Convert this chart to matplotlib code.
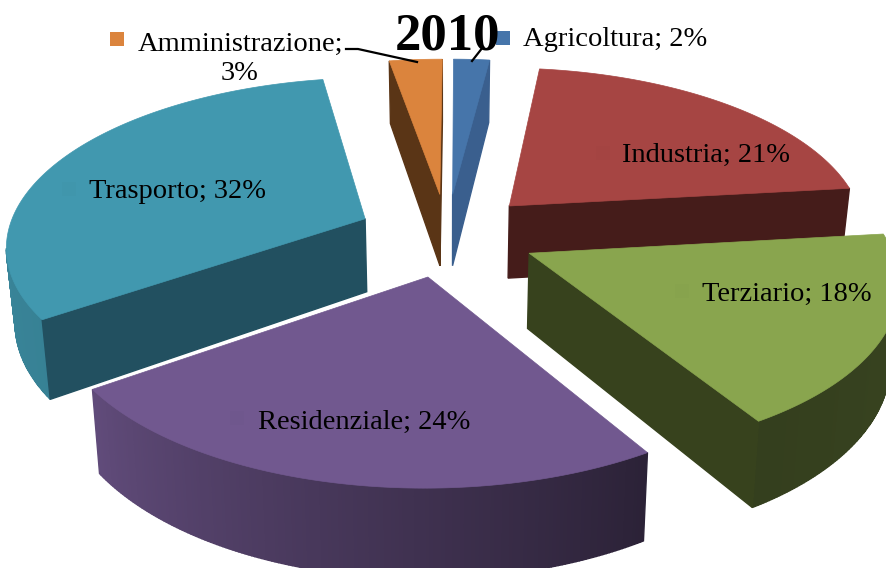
"""Exploded 3D pie of the 2010 shares, drawn with a hand-made perspective projection."""

import matplotlib

matplotlib.use("Agg")
import matplotlib.pyplot as plt
import numpy as np

CATEGORIES = ["Agricoltura", "Industria", "Terziario", "Residenziale", "Trasporto", "Amministrazione"]
# The labels show them rounded.
SHARES = [1.9, 21.2, 18.1, 24.0, 32.0, 2.8]
TITLE = "2010"

TOP_COLORS = ["#4675aa", "#a64543", "#89a54e", "#71588f", "#4198af", "#db843d"]
RADIAL_COLORS = ["#3a5f8e", "#451c1a", "#37421d", "#2c233c", "#225060", "#5a3516"]

# Projection, in reference pixels.
CX, CY = 447.0, 234.6
RADIUS = 358.0
EXPLODE = 90.0
DEPTH = 74.0
SQUASH = 0.464
PERSPECTIVE = 2430.0
START_ANGLE = 0.3
# The lower rim sits a little closer to the centre, the camera looks down on the pie.
BOTTOM_SCALE = 0.98


def project(x, y, z=0.0):
    w = 1 + np.asarray(y) / PERSPECTIVE
    return CX + np.asarray(x) / w, CY - np.asarray(y) * SQUASH / w + z / w


def wall_shade(angle):
    # Curved outer wall gets lighter towards the left side.
    return np.interp(angle, [90, 148, 234, 300], [0.42, 0.38, 0.85, 0.9])


def shade(color, factor):
    return tuple(np.array(matplotlib.colors.to_rgb(color)) * factor)


def wall(ax, p, q, color, zorder):
    xs = [p[0], q[0], CX + (q[0] - CX) * BOTTOM_SCALE, CX + (p[0] - CX) * BOTTOM_SCALE]
    ys = [p[1], q[1], q[1] + DEPTH / q[2], p[1] + DEPTH / p[2]]
    ax.fill(xs, ys, color=color, lw=1.0, zorder=zorder)


def draw_slice(ax, start, end, top_color, radial_color, zorder):
    mid = np.radians((start + end) / 2)
    tx, ty = EXPLODE * np.sin(mid), EXPLODE * np.cos(mid)
    angles = np.linspace(start, end, max(int(end - start) * 2, 8))
    rad = np.radians(angles)
    wx = np.concatenate([[tx], tx + RADIUS * np.sin(rad)])
    wy = np.concatenate([[ty], ty + RADIUS * np.cos(rad)])
    sx, sy = project(wx, wy)
    w = 1 + wy / PERSPECTIVE
    pts = list(zip(sx, sy, w))

    # A wall shows when the clockwise outline runs leftwards on screen.
    for i in range(1, len(pts) - 1):
        if pts[i + 1][0] < pts[i][0]:
            color = shade(top_color, wall_shade((angles[i - 1] + angles[i]) / 2))
            wall(ax, pts[i], pts[i + 1], color, zorder)
    if pts[1][0] < pts[0][0]:
        wall(ax, pts[0], pts[1], radial_color, zorder + 0.1)
    if pts[0][0] < pts[-1][0]:
        wall(ax, pts[-1], pts[0], radial_color, zorder + 0.1)
    ax.fill(sx, sy, color=top_color, lw=0.5, zorder=zorder + 0.2)


fig = plt.figure(figsize=(8.87, 5.68), dpi=100)
ax = fig.add_axes([0, 0, 1, 1])
ax.set_xlim(0, 887)
ax.set_ylim(568, 0)
ax.axis("off")

edges = np.concatenate([[0], np.cumsum(SHARES)]) * 360.0 / sum(SHARES) + START_ANGLE
mids = (edges[:-1] + edges[1:]) / 2
# Back slices first, so nearer ones paint over them.
order = np.argsort(-np.cos(np.radians(mids)))
for rank, i in enumerate(order):
    draw_slice(ax, edges[i], edges[i + 1], TOP_COLORS[i], RADIAL_COLORS[i], 2 + rank)

# Leader lines
ax.plot([346, 358, 417], [49, 49, 62], color="black", lw=1.6, zorder=20)
ax.plot([472, 483], [61, 47], color="black", lw=1.6, zorder=20)

# Label text and its legend key, in reference pixels.
FONT = "Liberation Serif"
label_pos = [(523, 40), (622, 155), (702, 294), (258, 422), (89, 192), (240, 59)]
key_pos = [(503, 38), (603, 153), (682, 291), (237, 418), (69, 189), (117, 39)]
for i, name in enumerate(CATEGORIES):
    text = f"{name}; {round(SHARES[i])}%"
    if name == "Amministrazione":
        text = f"{name};\n{round(SHARES[i])}%"
    ax.text(*label_pos[i], text, family=FONT, fontsize=20.5, color="black", va="center",
            ha="center" if "\n" in text else "left", linespacing=1.2, zorder=21)
    on_slice = name not in ("Agricoltura", "Amministrazione")
    key = shade(TOP_COLORS[i], 0.985) if on_slice else TOP_COLORS[i]
    ax.scatter(*key_pos[i], marker="s", s=110, color=key, lw=0, zorder=19)

ax.text(448, 50, TITLE, family=FONT, fontsize=38, fontweight="bold", ha="center", va="baseline", zorder=22)

fig.savefig("out.png", dpi=100)
